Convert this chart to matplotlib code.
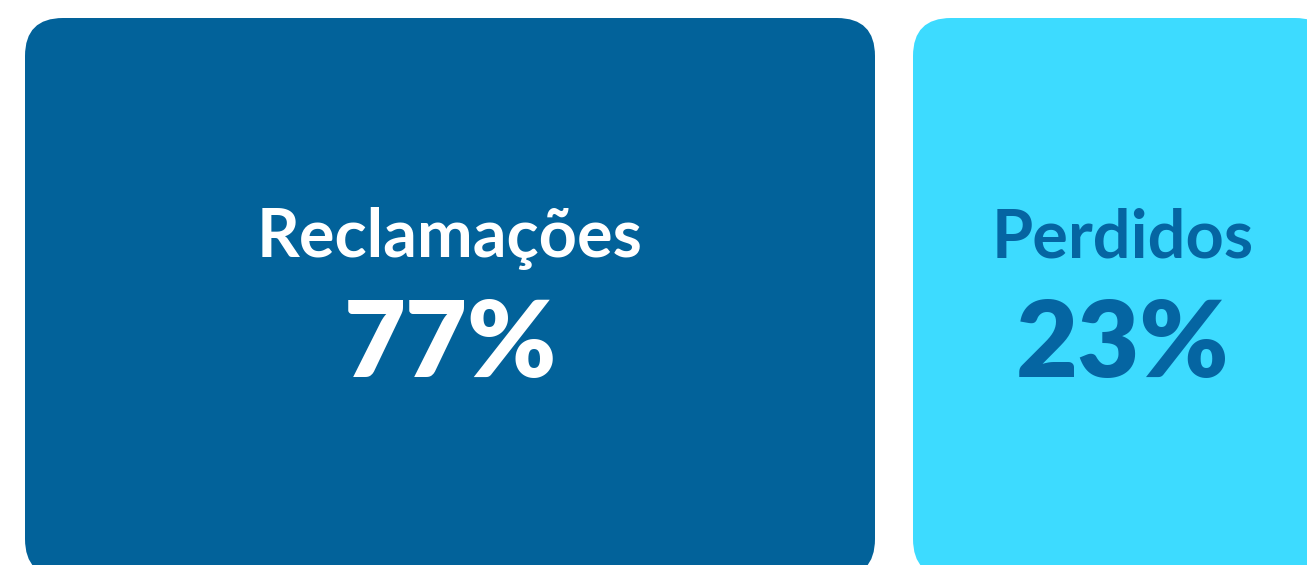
import matplotlib
matplotlib.use("Agg")
import matplotlib.pyplot as plt
from matplotlib.patches import FancyBboxPatch

# data
labels = ["Reclamações", "Perdidos"]
shares = [77, 23]
box_colors = ["#02629a", "#3ddbff"]
text_colors = ["#ffffff", "#0565a2"]

# layout (pixels)
W, H = 1307, 565
box_left = [25, 913]
box_width = [850, 420]
box_top = 18
box_bottom = 577
radius = 38

fig = plt.figure(figsize=(W / 100, H / 100), dpi=100)
ax = fig.add_axes([0, 0, 1, 1])
ax.set_xlim(0, W)
ax.set_ylim(H, 0)
ax.axis("off")

for lab, val, x0, w, fc, tc in zip(labels, shares, box_left, box_width, box_colors, text_colors):
    box = FancyBboxPatch((x0, box_top), w, box_bottom - box_top,
                         boxstyle=f"round,pad=0,rounding_size={radius}",
                         fc=fc, ec="none")
    ax.add_patch(box)
    cx = x0 + w / 2
    ax.text(cx, 257, lab, color=tc, ha="center", va="baseline",
            fontsize=48, fontweight="bold", family="Lato")
    ax.text(cx, 377, f"{val}%", color=tc, ha="center", va="baseline",
            fontsize=77, fontweight="heavy", family="Lato")

fig.savefig("out.png", dpi=100)
